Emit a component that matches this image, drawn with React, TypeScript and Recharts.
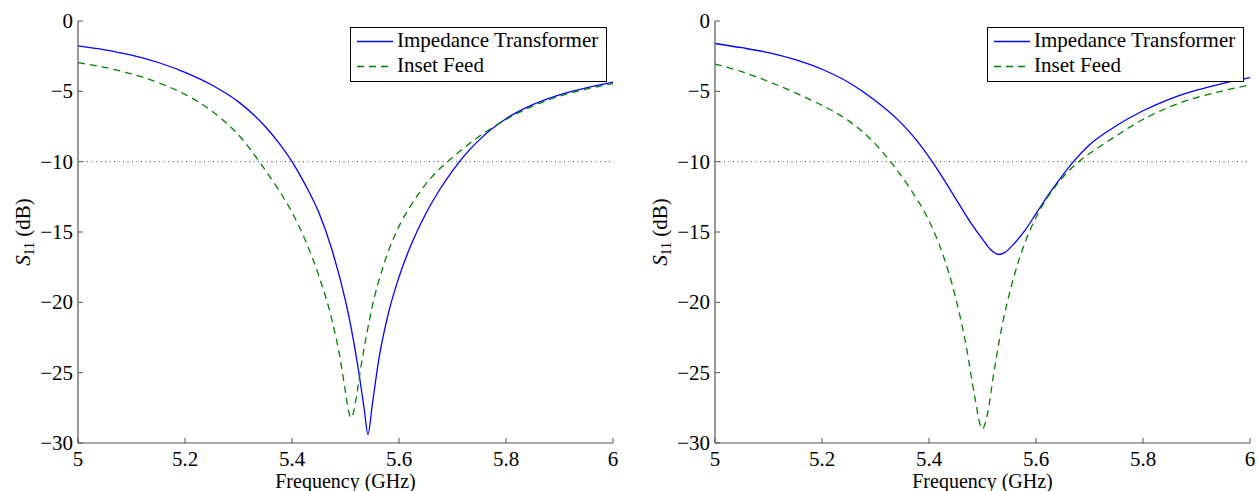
import { Legend, Line, LineChart, ReferenceLine, XAxis, YAxis } from "recharts";

const FONT = '"Liberation Serif", "Times New Roman", serif';
const BLUE = "#0000ff";
const GREEN = "#008000";
const AXIS = "#555";

const freqTicks = [5, 5.2, 5.4, 5.6, 5.8, 6];
const s11Ticks = [-30, -25, -20, -15, -10, -5, 0];
const seriesNames = ["Impedance Transformer", "Inset Feed"];

// left panel
const leftTransformerFreq = [
  5.0, 5.05, 5.1, 5.15, 5.2, 5.25, 5.3, 5.35, 5.375, 5.4, 5.425, 5.45, 5.475,
  5.5, 5.5125, 5.525, 5.535, 5.542, 5.55, 5.5625, 5.58, 5.6, 5.625, 5.65,
  5.675, 5.7, 5.725, 5.75, 5.8, 5.85, 5.9, 5.95, 6.0,
];
const leftTransformerS11 = [
  -1.77, -2.05, -2.43, -2.95, -3.65, -4.55, -5.75, -7.5, -8.65, -10.0, -11.65,
  -13.6, -16.3, -19.9, -22.2, -25.0, -27.6, -29.4, -27.3, -24.0, -20.8, -18.2,
  -15.7, -13.7, -12.05, -10.65, -9.45, -8.45, -6.95, -5.95, -5.25, -4.75, -4.35,
];
const leftInsetFreq = [
  5.0, 5.05, 5.1, 5.15, 5.2, 5.25, 5.3, 5.35, 5.375, 5.4, 5.425, 5.45, 5.475,
  5.49, 5.5, 5.505, 5.51, 5.515, 5.52, 5.53, 5.54, 5.55, 5.57, 5.595, 5.625,
  5.65, 5.675, 5.7, 5.75, 5.8, 5.85, 5.9, 5.95, 6.0,
];
const leftInsetS11 = [
  -2.96, -3.3, -3.76, -4.38, -5.22, -6.4, -8.1, -10.6, -12.0, -13.6, -15.6,
  -18.1, -21.3, -24.0, -26.4, -27.6, -28.2, -27.8, -26.8, -24.3, -22.2, -20.3,
  -17.5, -15.0, -12.95, -11.6, -10.55, -9.7, -8.2, -7.0, -6.05, -5.35, -4.85,
  -4.45,
];

// right panel
const rightTransformerFreq = [
  5.0, 5.05, 5.1, 5.15, 5.2, 5.25, 5.3, 5.35, 5.375, 5.406, 5.43, 5.455, 5.48,
  5.5, 5.515, 5.53, 5.542, 5.556, 5.58, 5.6, 5.625, 5.65, 5.67, 5.7, 5.75, 5.8,
  5.85, 5.9, 5.95, 6.0,
];
const rightTransformerS11 = [
  -1.6, -1.9, -2.25, -2.75, -3.43, -4.37, -5.67, -7.33, -8.4, -10.0, -11.4,
  -12.95, -14.45, -15.5, -16.25, -16.6, -16.45, -15.95, -14.85, -13.7, -12.25,
  -10.95, -10.0, -8.8, -7.45, -6.38, -5.55, -4.92, -4.43, -4.02,
];
const rightInsetFreq = [
  5.0, 5.05, 5.1, 5.15, 5.2, 5.25, 5.3, 5.328, 5.3625, 5.4, 5.425, 5.45, 5.47,
  5.485, 5.4994, 5.51, 5.52, 5.53, 5.545, 5.56, 5.58, 5.605, 5.6375, 5.68,
  5.7125, 5.75, 5.8, 5.85, 5.9, 5.95, 6.0,
];
const rightInsetS11 = [
  -3.07, -3.6, -4.3, -5.1, -6.0, -7.1, -8.75, -10.0, -11.8, -14.2, -16.5,
  -19.7, -23.2, -26.6, -29.0, -27.8, -25.3, -23.0, -20.2, -18.0, -15.7, -13.6,
  -11.7, -10.0, -9.1, -8.16, -7.0, -6.1, -5.44, -4.96, -4.54,
];

type Pt = { f: number; s11: number };
const zip = (f: number[], v: number[]): Pt[] => f.map((x, i) => ({ f: x, s11: v[i] }));

const fmtDb = (v: number) => (v < 0 ? `\u2212${Math.abs(v)}` : `${v}`);

function FreqTick(props: any) {
  const { x, y, payload } = props;
  const axisY = y - 8;
  return (
    <g>
      <line x1={x} x2={x} y1={axisY} y2={axisY - 5} stroke={AXIS} />
      <text x={x} y={y} dy={14.5} textAnchor="middle" fontFamily={FONT} fontSize={21} fill="#000">
        {payload.value}
      </text>
    </g>
  );
}

function DbTick(props: any) {
  const { x, y, payload } = props;
  const axisX = x + 5;
  return (
    <g>
      <line x1={axisX} x2={axisX + 5} y1={y} y2={y} stroke={AXIS} />
      <text x={x} y={y} dy={7} textAnchor="end" fontFamily={FONT} fontSize={21} fill="#000">
        {fmtDb(payload.value)}
      </text>
    </g>
  );
}

function SeriesLegend({ payload }: any) {
  return (
    <div
      style={{
        border: "1px solid #000",
        background: "#fff",
        width: 255,
        height: 52,
        paddingTop: 1,
        boxSizing: "content-box",
        fontFamily: FONT,
        fontSize: 21,
        lineHeight: "25px",
        color: "#000",
      }}
    >
      {(payload || []).map((entry: any) => (
        <div key={entry.value} style={{ display: "flex", alignItems: "center", height: 25 }}>
          <svg width={46} height={25} style={{ flex: "none" }}>
            <line
              x1={6}
              x2={42}
              y1={12.5}
              y2={12.5}
              stroke={entry.color}
              strokeWidth={1.3}
              strokeDasharray={entry.payload?.strokeDasharray}
            />
          </svg>
          <span style={{ whiteSpace: "nowrap", marginTop: -2 }}>{entry.value}</span>
        </div>
      ))}
    </div>
  );
}

function S11Panel({ transformer, inset }: { transformer: Pt[]; inset: Pt[] }) {
  return (
    <LineChart width={628} height={491} margin={{ top: 21, right: 15, bottom: 18, left: 18 }}>
      <XAxis
        type="number"
        dataKey="f"
        domain={[5, 6]}
        ticks={freqTicks}
        height={30}
        tickSize={0}
        tickMargin={8}
        tickLine={false}
        axisLine={{ stroke: AXIS, strokeWidth: 1.2 }}
        tick={(p: any) => <FreqTick {...p} />}
        label={{
          content: (p: any) => {
            const vb = p.viewBox;
            return (
              <text x={vb.x + vb.width / 2} y={vb.y + 45.3} textAnchor="middle" fontFamily={FONT} fontSize={20} fill="#000">
                Frequency (GHz)
              </text>
            );
          },
        }}
      />
      <YAxis
        type="number"
        domain={[-30, 0]}
        ticks={s11Ticks}
        width={60}
        tickSize={0}
        tickMargin={5}
        tickLine={false}
        axisLine={{ stroke: AXIS, strokeWidth: 1.2 }}
        tick={(p: any) => <DbTick {...p} />}
        label={{
          content: (p: any) => {
            const vb = p.viewBox;
            const cx = vb.x + 12;
            const cy = vb.y + vb.height / 2;
            return (
              <text
                x={cx}
                y={cy}
                transform={`rotate(-90, ${cx}, ${cy})`}
                textAnchor="middle"
                fontFamily={FONT}
                fontSize={21}
                fill="#000"
              >
                <tspan fontStyle="italic">S</tspan>
                <tspan dy={4} fontSize={14}>11</tspan>
                <tspan dy={-4}> (dB)</tspan>
              </text>
            );
          },
        }}
      />
      <ReferenceLine y={-10} stroke="#444" strokeDasharray="1 3.5" />
      <Line
        data={transformer}
        dataKey="s11"
        name={seriesNames[0]}
        type="monotone"
        stroke={BLUE}
        strokeWidth={1.3}
        dot={false}
        isAnimationActive={false}
      />
      <Line
        data={inset}
        dataKey="s11"
        name={seriesNames[1]}
        type="monotone"
        stroke={GREEN}
        strokeWidth={1.3}
        strokeDasharray="7 5"
        dot={false}
        isAnimationActive={false}
      />
      <Legend
        layout="vertical"
        align="center"
        verticalAlign="middle"
        content={<SeriesLegend />}
        wrapperStyle={{ left: 350, top: 27, width: 257, height: 54 }}
      />
    </LineChart>
  );
}

export default function App() {
  return (
    <div style={{ position: "absolute", left: 0, top: 0, width: 1257, height: 491, background: "#fff" }}>
      <div style={{ position: "absolute", left: 0, top: 0 }}>
        <S11Panel transformer={zip(leftTransformerFreq, leftTransformerS11)} inset={zip(leftInsetFreq, leftInsetS11)} />
      </div>
      <div style={{ position: "absolute", left: 637, top: 0 }}>
        <S11Panel transformer={zip(rightTransformerFreq, rightTransformerS11)} inset={zip(rightInsetFreq, rightInsetS11)} />
      </div>
    </div>
  );
}
